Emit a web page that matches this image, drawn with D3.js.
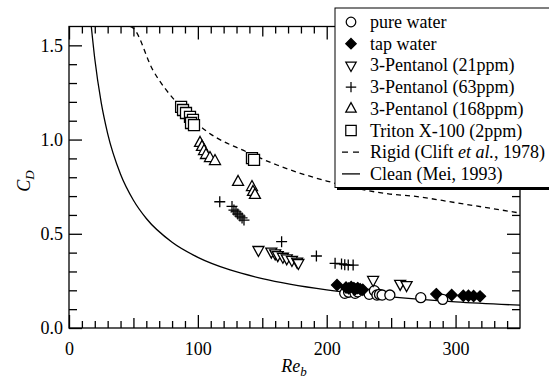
<!DOCTYPE html>
<html>
<head>
<meta charset="utf-8">
<script src="https://cdn.jsdelivr.net/npm/d3@7"></script>
<style>
  body { margin: 0; background: #fff; }
  svg text { font-family: "Liberation Serif", "Times New Roman", Times, "DejaVu Serif", serif; }
</style>
</head>
<body>
<script>
// drag coefficient vs bubble Reynolds number
var pureRe = [214, 217, 222, 224, 233, 237, 239, 241, 243, 249, 273, 290];
var pureCd = [0.184, 0.19, 0.184, 0.192, 0.179, 0.198, 0.175, 0.178, 0.175, 0.175, 0.161, 0.152];

var tapRe = [208, 215, 217, 219, 221, 222, 224, 226, 228, 285, 297, 306, 310, 314, 319];
var tapCd = [0.228, 0.215, 0.21, 0.218, 0.212, 0.205, 0.212, 0.206, 0.203, 0.18, 0.175, 0.171, 0.171, 0.17, 0.168];

var p21Re = [147, 157, 160, 162, 166, 169, 173, 177, 178, 236, 257, 262];
var p21Cd = [0.414, 0.405, 0.396, 0.387, 0.378, 0.37, 0.361, 0.352, 0.345, 0.255, 0.234, 0.228];

var p63Re = [117, 126.5, 128, 129.6, 131, 132.7, 134.3, 135.8, 165, 192, 206.5, 211.5, 214, 216.7, 220.5];
var p63Cd = [0.67, 0.645, 0.626, 0.616, 0.605, 0.594, 0.584, 0.573, 0.458, 0.382, 0.343, 0.34, 0.336, 0.334, 0.334];

var p168Re = [101.7, 103.2, 104.8, 106.3, 109.4, 113.3, 131.2, 142, 142.8, 144.3];
var p168Cd = [0.982, 0.961, 0.939, 0.918, 0.902, 0.886, 0.775, 0.748, 0.722, 0.706];

var tritonRe = [87, 88.5, 90.8, 93.9, 96.2, 94.7, 97, 142, 143.6];
var tritonCd = [1.173, 1.157, 1.141, 1.12, 1.104, 1.088, 1.077, 0.902, 0.892];

// curves
var rigidRe = [47.5, 49.7, 65, 83.8, 105.5, 138, 161.4, 200, 249, 267, 300, 350];
var rigidCd = [1.6, 1.592, 1.37, 1.194, 1.051, 0.934, 0.865, 0.78, 0.711, 0.70, 0.665, 0.61];

var cleanRe = [17.3, 20, 25, 30, 40, 50, 60, 80, 100, 125, 150, 200, 250, 300, 350];
var cleanCd = [1.6, 1.429, 1.196, 1.032, 0.816, 0.678, 0.581, 0.455, 0.375, 0.308, 0.262, 0.202, 0.165, 0.139, 0.121];

var xTicks = [0, 100, 200, 300];
var yTicks = [0.0, 0.5, 1.0, 1.5];

var legendLabels = ["pure water", "tap water", "3-Pentanol (21ppm)", "3-Pentanol (63ppm)",
  "3-Pentanol (168ppm)", "Triton X-100 (2ppm)", "Rigid (Clift et al., 1978)", "Clean (Mei, 1993)"];

var W = 549, H = 380;
var serif = '"Liberation Serif", "Times New Roman", Times, "DejaVu Serif", serif';
var x = d3.scaleLinear().domain([0, 350]).range([69, 520]);
var y = d3.scaleLinear().domain([0, 1.6]).range([328, 26.5]);

var svg = d3.select("body").append("svg").attr("width", W).attr("height", H);
svg.append("rect").attr("width", W).attr("height", H).attr("fill", "#fff");

svg.append("clipPath").attr("id", "clip").append("rect")
  .attr("x", x(0)).attr("y", y(1.6)).attr("width", x(350) - x(0)).attr("height", y(0) - y(1.6));

// marker shapes
function shape(kind) {
  if (kind == "circle") return d3.symbol(d3.symbolCircle, 80)();
  if (kind == "diamond") return "M0,-5.5L5.5,0L0,5.5L-5.5,0Z";
  if (kind == "square") return "M-5.5,-5.5H5.5V5.5H-5.5Z";
  if (kind == "up") return "M0,-6.5L5.5,3.5H-5.5Z";
  if (kind == "down") return "M0,6.5L5.5,-3.5H-5.5Z";
  if (kind == "plus") return "M-5.5,0H5.5M0,-5.5V5.5";
}

var series = [
  {re: pureRe, cd: pureCd, kind: "circle"},
  {re: tapRe, cd: tapCd, kind: "diamond"},
  {re: p21Re, cd: p21Cd, kind: "down"},
  {re: p63Re, cd: p63Cd, kind: "plus"},
  {re: p168Re, cd: p168Cd, kind: "up"},
  {re: tritonRe, cd: tritonCd, kind: "square"}
];

// curves
var line = d3.line().x(function(d) { return x(d[0]); }).y(function(d) { return y(d[1]); }).curve(d3.curveMonotoneX);
var plot = svg.append("g").attr("clip-path", "url(#clip)");
plot.append("path").datum(d3.zip(cleanRe, cleanCd)).attr("d", line)
  .attr("fill", "none").attr("stroke", "#000").attr("stroke-width", 1.3);
plot.append("path").datum(d3.zip(rigidRe, rigidCd)).attr("d", line)
  .attr("fill", "none").attr("stroke", "#000").attr("stroke-width", 1.3).attr("stroke-dasharray", "5,4");

// data points
series.forEach(function(s) {
  plot.append("g").selectAll("path")
    .data(d3.zip(s.re, s.cd))
    .enter().append("path")
    .attr("d", shape(s.kind))
    .attr("transform", function(d) { return "translate(" + x(d[0]) + "," + y(d[1]) + ")"; })
    .attr("fill", s.kind == "diamond" ? "#000" : (s.kind == "plus" ? "none" : "#fff"))
    .attr("stroke", "#000")
    .attr("stroke-width", 1.3);
});

// AXES (ticks inward on all four sides)
function xAxis(axisFn, ty, vals, len, labels) {
  return svg.append("g").attr("transform", "translate(0," + ty + ")")
    .call(axisFn(x).tickValues(vals).tickSizeInner(-len).tickSizeOuter(0)
      .tickFormat(labels ? d3.format("d") : ""));
}
function yAxis(axisFn, tx, vals, len, labels) {
  return svg.append("g").attr("transform", "translate(" + tx + ",0)")
    .call(axisFn(y).tickValues(vals).tickSizeInner(-len).tickSizeOuter(0)
      .tickFormat(labels ? d3.format(".1f") : ""));
}
var minorX = d3.range(0, 351, 10).filter(function(v) { return v % 50 != 0; });
var midX = [50, 150, 250];
var minorY = d3.range(0, 16).map(function(v) { return v / 10; }).filter(function(v) { return Math.round(v * 10) % 5 != 0; });

var axes = [];
axes.push(xAxis(d3.axisBottom, 328, xTicks, 13, true));
axes.push(xAxis(d3.axisBottom, 328, midX, 10, false));
axes.push(xAxis(d3.axisBottom, 328, minorX, 7, false));
axes.push(xAxis(d3.axisTop, 26.5, xTicks, 13, false));
axes.push(xAxis(d3.axisTop, 26.5, midX, 10, false));
axes.push(xAxis(d3.axisTop, 26.5, minorX, 7, false));
axes.push(yAxis(d3.axisLeft, 69, yTicks, 13, true));
axes.push(yAxis(d3.axisLeft, 69, minorY, 8, false));
axes.push(yAxis(d3.axisRight, 520, yTicks, 13, false));
axes.push(yAxis(d3.axisRight, 520, minorY, 8, false));
axes.forEach(function(g) {
  g.attr("font-family", serif);
  g.selectAll("line").attr("stroke", "#000").attr("stroke-width", 1.3);
  g.selectAll(".domain").remove();
  g.selectAll("text").attr("fill", "#000").style("font-size", "18px");
});
axes[0].selectAll("text").attr("y", 14);
axes[6].selectAll("text").attr("x", -6);

svg.append("rect").attr("x", x(0)).attr("y", y(1.6)).attr("width", x(350) - x(0)).attr("height", y(0) - y(1.6))
  .attr("fill", "none").attr("stroke", "#000").attr("stroke-width", 1.3);

// AXIS LABELS
var xl = svg.append("text").attr("x", 294).attr("y", 372).attr("text-anchor", "middle")
  .style("font-size", "18px").style("font-style", "italic");
xl.append("tspan").text("Re");
xl.append("tspan").attr("dy", 4).style("font-size", "13px").text("b");

var yl = svg.append("text").attr("transform", "translate(30,181) rotate(-90)").attr("text-anchor", "middle")
  .style("font-size", "18px").style("font-style", "italic");
yl.append("tspan").text("C");
yl.append("tspan").attr("dy", 4).style("font-size", "13px").text("D");

// LEGEND
var lg = svg.append("g");
lg.append("rect").attr("x", 337).attr("y", 10).attr("width", 220).attr("height", 180).attr("fill", "#000");
lg.append("rect").attr("x", 335).attr("y", 8).attr("width", 220).attr("height", 179.5)
  .attr("fill", "#fff").attr("stroke", "#000").attr("stroke-width", 1);

var kinds = ["circle", "diamond", "down", "plus", "up", "square"];
legendLabels.forEach(function(lab, i) {
  var cy = 22 + i * 21.7;
  if (i < 6) {
    lg.append("path").attr("d", shape(kinds[i]))
      .attr("transform", "translate(351," + cy + ") scale(0.95)")
      .attr("fill", kinds[i] == "diamond" ? "#000" : (kinds[i] == "plus" ? "none" : "#fff"))
      .attr("stroke", "#000").attr("stroke-width", 1.3);
  } else {
    lg.append("line").attr("x1", 342).attr("x2", 360).attr("y1", cy).attr("y2", cy)
      .attr("stroke", "#000").attr("stroke-width", 1.3)
      .attr("stroke-dasharray", i == 6 ? "6,5" : null);
  }
  var t = lg.append("text").attr("x", 370).attr("y", cy + 6).style("font-size", "18px");
  if (i == 6) {
    t.append("tspan").text("Rigid (Clift ");
    t.append("tspan").style("font-style", "italic").text("et al.");
    t.append("tspan").text(", 1978)");
  } else {
    t.text(lab);
  }
});
</script>
</body>
</html>
